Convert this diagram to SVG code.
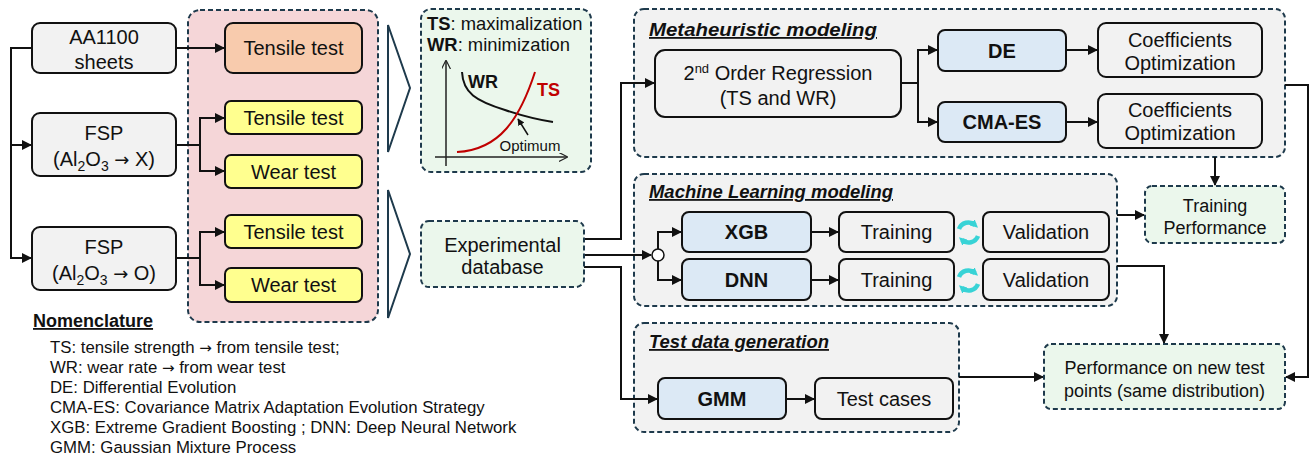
<svg xmlns="http://www.w3.org/2000/svg" width="1311" height="458" viewBox="0 0 1311 458">
<style>
text{font-family:"Liberation Sans",Arial,sans-serif;fill:#111;}
.t20{font-size:20px;text-anchor:middle;}
.t18{font-size:18px;text-anchor:middle;}
.b{font-weight:bold;}
.box{stroke:#111;stroke-width:2;}
.gray{fill:#f2f2f2;}
.blue{fill:#dce9f5;}
.yel{fill:#ffff8f;}
.org{fill:#f8cbad;}
.grp{stroke:#1e3a4c;stroke-width:2;stroke-dasharray:5 3;}
.green{fill:#ebf7ec;}
.pink{fill:#f5d6d8;}
.lgray{fill:#f2f2f2;}
.ttl{font-size:18px;font-weight:bold;font-style:italic;text-decoration:underline;}
.nom{font-size:16.8px;}
.arr{font-family:"DejaVu Sans",sans-serif;}
.con{fill:none;stroke:#111;stroke-width:2;}
.chev{fill:none;stroke:#1e3a4c;stroke-width:2;stroke-linejoin:miter;}
.cyc{fill:none;stroke:#38d3d6;stroke-width:4.5;}
</style>
<defs>
<marker id="ah" viewBox="0 0 10 10" refX="9" refY="5" markerWidth="10" markerHeight="10" markerUnits="userSpaceOnUse" orient="auto">
<path d="M0,0 L10,5 L0,10 z" fill="#111"/>
</marker>
<marker id="sah" viewBox="0 0 10 10" refX="9" refY="5" markerWidth="7" markerHeight="7" markerUnits="userSpaceOnUse" orient="auto">
<path d="M0,0 L10,5 L0,10 z" fill="#111"/>
</marker>
<marker id="open" viewBox="0 0 10 10" refX="9" refY="5" markerWidth="9" markerHeight="9" markerUnits="userSpaceOnUse" orient="auto">
<path d="M0,0 L10,5 L0,10" fill="none" stroke="#222" stroke-width="1.3"/>
</marker>
<marker id="cyah" viewBox="0 0 10 10" refX="5" refY="5" markerWidth="8" markerHeight="8" markerUnits="userSpaceOnUse" orient="auto">
<path d="M0,0 L10,5 L0,10 z" fill="#38d3d6"/>
</marker>
</defs>

<!-- groups (containers) -->
<g id="grp-tests"><rect class="grp pink" x="188" y="10" width="190" height="312" rx="12"/></g>
<g id="grp-meta"><rect class="grp lgray" x="634" y="9" width="651" height="148" rx="10"/>
<text class="ttl" x="649" y="36" textLength="228" lengthAdjust="spacingAndGlyphs">Metaheuristic modeling</text></g>
<g id="grp-ml"><rect class="grp lgray" x="634" y="174" width="483" height="132" rx="10"/>
<text class="ttl" x="649" y="198" textLength="244" lengthAdjust="spacingAndGlyphs">Machine Learning modeling</text></g>
<g id="grp-test"><rect class="grp lgray" x="634" y="323" width="325" height="109" rx="10"/>
<text class="ttl" x="649" y="348" textLength="180" lengthAdjust="spacingAndGlyphs">Test data generation</text></g>

<!-- chevrons -->
<g id="chevrons">
<path class="chev" d="M388,25 L410,88 L388,152 Z"/>
<path class="chev" d="M388,190 L410,254 L388,318 Z"/>
</g>

<!-- connectors -->
<g id="connectors">
<path class="con" d="M32,48 H11 V258 H31" marker-end="url(#ah)"/>
<path class="con" d="M11,145 H31" marker-end="url(#ah)"/>
<path class="con" d="M176,48 H224" marker-end="url(#ah)"/>
<path class="con" d="M176,145 H200"/>
<path class="con" d="M224,118 H200 V171 H224" marker-end="url(#ah)"/>
<path class="con" d="M200,118 H224" marker-end="url(#ah)"/>
<path class="con" d="M176,258 H200"/>
<path class="con" d="M224,232 H200 V285 H224" marker-end="url(#ah)"/>
<path class="con" d="M200,232 H224" marker-end="url(#ah)"/>
<path class="con" d="M584,239 H621 V83 H654" marker-end="url(#ah)"/>
<path class="con" d="M584,255 H651" marker-end="url(#ah)"/>
<path class="con" d="M658,249 V232 H681" marker-end="url(#ah)"/>
<path class="con" d="M658,261 V280 H681" marker-end="url(#ah)"/>
<path class="con" d="M811,232 H838" marker-end="url(#ah)"/>
<path class="con" d="M811,280 H838" marker-end="url(#ah)"/>
<path class="con" d="M584,267 H621 V399 H657" marker-end="url(#ah)"/>
<path class="con" d="M786,399 H814" marker-end="url(#ah)"/>
<path class="con" d="M901,83 H918"/>
<path class="con" d="M937,50 H918 V122 H937" marker-end="url(#ah)"/>
<path class="con" d="M918,50 H937" marker-end="url(#ah)"/>
<path class="con" d="M1066,50 H1097" marker-end="url(#ah)"/>
<path class="con" d="M1066,122 H1097" marker-end="url(#ah)"/>
<path class="con" d="M1285,85 H1308 V377 H1286" marker-end="url(#ah)"/>
<path class="con" d="M1215,157 V185" marker-end="url(#ah)"/>
<path class="con" d="M1117,215 H1144" marker-end="url(#ah)"/>
<path class="con" d="M1117,266 H1164 V343" marker-end="url(#ah)"/>
<path class="con" d="M959,377 H1043" marker-end="url(#ah)"/>
</g>

<!-- left nodes -->
<g id="aa1100"><rect class="box gray" x="32" y="23" width="144" height="50" rx="8"/>
<text class="t20" x="104" y="44">AA1100</text><text class="t20" x="104" y="69">sheets</text></g>
<g id="fsp-x"><rect class="box gray" x="32" y="113" width="144" height="63" rx="8"/>
<text class="t20" x="104" y="140">FSP</text>
<text class="t20" x="104" y="166">(Al<tspan font-size="14" dy="5">2</tspan><tspan dy="-5">O</tspan><tspan font-size="14" dy="5">3</tspan><tspan dy="-5"> </tspan><tspan class="arr" font-size="18">→</tspan> X)</text></g>
<g id="fsp-o"><rect class="box gray" x="32" y="227" width="144" height="63" rx="8"/>
<text class="t20" x="104" y="254">FSP</text>
<text class="t20" x="104" y="280">(Al<tspan font-size="14" dy="5">2</tspan><tspan dy="-5">O</tspan><tspan font-size="14" dy="5">3</tspan><tspan dy="-5"> </tspan><tspan class="arr" font-size="18">→</tspan> O)</text></g>

<g id="tensile-0"><rect class="box org" x="225" y="23" width="137" height="50" rx="8"/><text class="t20" x="293.5" y="55">Tensile test</text></g>
<g id="tensile-x"><rect class="box yel" x="225" y="101" width="137" height="33" rx="6"/><text class="t20" x="293.5" y="125">Tensile test</text></g>
<g id="wear-x"><rect class="box yel" x="225" y="155" width="137" height="33" rx="6"/><text class="t20" x="293.5" y="179">Wear test</text></g>
<g id="tensile-o"><rect class="box yel" x="225" y="215" width="137" height="33" rx="6"/><text class="t20" x="293.5" y="239">Tensile test</text></g>
<g id="wear-o"><rect class="box yel" x="225" y="268" width="137" height="34" rx="6"/><text class="t20" x="293.5" y="292">Wear test</text></g>

<!-- objective chart -->
<g id="objectives"><rect class="grp green" x="421" y="9" width="170" height="163" rx="10"/>
<text x="427" y="30" style="font-size:18.4px"><tspan font-weight="bold">TS</tspan>: maximalization</text>
<text x="427" y="51" style="font-size:18.4px"><tspan font-weight="bold">WR</tspan>: minimization</text>
<path d="M446,166 V61" fill="none" stroke="#222" stroke-width="1.5" marker-end="url(#open)"/>
<path d="M435,157 H567" fill="none" stroke="#222" stroke-width="1.5" marker-end="url(#open)"/>
<path d="M462,72 C463,93 476,101 505,110 C526,117 540,120 553,122" fill="none" stroke="#111" stroke-width="2"/>
<path d="M457,152 C500,150 520,118 535,72" fill="none" stroke="#c00000" stroke-width="2"/>
<text x="468" y="88" style="font-size:18px;font-weight:bold">WR</text>
<text x="537" y="96" style="font-size:18px;font-weight:bold;fill:#c00000">TS</text>
<path d="M528,135 L518,119" fill="none" stroke="#111" stroke-width="1.5" marker-end="url(#sah)"/>
<text x="530" y="151" style="font-size:15px;text-anchor:middle">Optimum</text></g>

<g id="expdb"><rect class="grp green" x="421" y="221" width="163" height="66" rx="8"/>
<text class="t20" x="502.5" y="252">Experimental</text><text class="t20" x="502.5" y="274">database</text></g>

<!-- metaheuristic nodes -->
<g id="regression"><rect class="box gray" x="655" y="50" width="246" height="67" rx="10"/>
<text class="t20" x="778" y="80">2<tspan font-size="13" dy="-7">nd</tspan><tspan dy="7"> Order Regression</tspan></text>
<text class="t20" x="778" y="105">(TS and WR)</text></g>
<g id="de"><rect class="box blue" x="938" y="30" width="128" height="41" rx="7"/><text class="t20 b" x="1002" y="58">DE</text></g>
<g id="cmaes"><rect class="box blue" x="938" y="102" width="128" height="40" rx="7"/><text class="t20 b" x="1002" y="129">CMA-ES</text></g>
<g id="coef-de"><rect class="box gray" x="1098" y="23" width="164" height="54" rx="8"/>
<text class="t20" x="1180" y="47">Coefficients</text><text class="t20" x="1180" y="70">Optimization</text></g>
<g id="coef-cma"><rect class="box gray" x="1098" y="94" width="164" height="54" rx="8"/>
<text class="t20" x="1180" y="117">Coefficients</text><text class="t20" x="1180" y="140">Optimization</text></g>

<!-- ML nodes -->
<g id="split"><circle cx="658" cy="255" r="6" fill="#fff" stroke="#111" stroke-width="1.5"/></g>
<g id="xgb"><rect class="box blue" x="682" y="212" width="129" height="40" rx="7"/><text class="t20 b" x="746.5" y="239">XGB</text></g>
<g id="dnn"><rect class="box blue" x="682" y="259" width="129" height="41" rx="7"/><text class="t20 b" x="746.5" y="287">DNN</text></g>
<g id="train-xgb"><rect class="box gray" x="839" y="212" width="115" height="40" rx="7"/><text class="t20" x="896.5" y="239">Training</text></g>
<g id="train-dnn"><rect class="box gray" x="839" y="259" width="115" height="41" rx="7"/><text class="t20" x="896.5" y="287">Training</text></g>
<g id="val-xgb"><rect class="box gray" x="983" y="212" width="126" height="40" rx="7"/><text class="t20" x="1046" y="239">Validation</text></g>
<g id="val-dnn"><rect class="box gray" x="983" y="259" width="126" height="41" rx="7"/><text class="t20" x="1046" y="287">Validation</text></g>
<g id="cycle-xgb">
<path class="cyc" d="M959,229 A10,10 0 0 1 975,225" marker-end="url(#cyah)"/>
<path class="cyc" d="M978,236 A10,10 0 0 1 962,240" marker-end="url(#cyah)"/>
</g>
<g id="cycle-dnn">
<path class="cyc" d="M959,277 A10,10 0 0 1 975,273" marker-end="url(#cyah)"/>
<path class="cyc" d="M978,284 A10,10 0 0 1 962,288" marker-end="url(#cyah)"/>
</g>

<g id="train-perf"><rect class="grp green" x="1145" y="186" width="140" height="57" rx="7"/>
<text class="t18" x="1215" y="212">Training</text><text class="t18" x="1215" y="234">Performance</text></g>

<!-- test data nodes -->
<g id="gmm"><rect class="box blue" x="658" y="378" width="128" height="41" rx="7"/><text class="t20 b" x="722" y="406">GMM</text></g>
<g id="testcases"><rect class="box gray" x="815" y="378" width="138" height="41" rx="7"/><text class="t20" x="884" y="406">Test cases</text></g>

<g id="perf-new"><rect class="grp green" x="1044" y="344" width="241" height="65" rx="7"/>
<text class="t18" x="1164.5" y="374">Performance on new test</text><text class="t18" x="1164.5" y="397">points (same distribution)</text></g>

<!-- nomenclature -->
<g id="nomenclature">
<text x="33" y="327" style="font-size:18px;font-weight:bold;text-decoration:underline">Nomenclature</text>
<text class="nom" x="50" y="353">TS: tensile strength <tspan class="arr" font-size="15">→</tspan> from tensile test;</text>
<text class="nom" x="50" y="373">WR: wear rate <tspan class="arr" font-size="15">→</tspan> from wear test</text>
<text class="nom" x="50" y="393">DE: Differential Evolution</text>
<text class="nom" x="50" y="413">CMA-ES: Covariance Matrix Adaptation Evolution Strategy</text>
<text class="nom" x="50" y="433">XGB: Extreme Gradient Boosting ; DNN: Deep Neural Network</text>
<text class="nom" x="50" y="453">GMM: Gaussian Mixture Process</text>
</g>
</svg>
